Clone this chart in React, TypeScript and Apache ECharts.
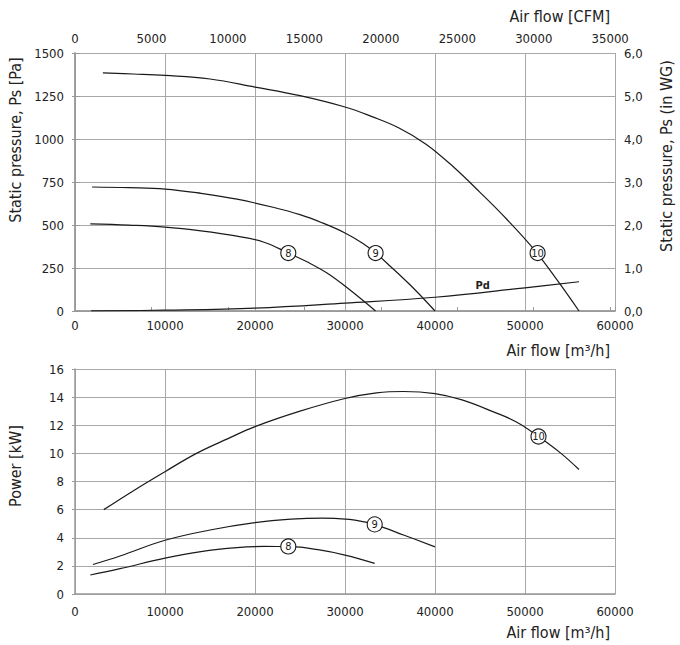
import React, { useEffect, useRef } from "react";
import * as echarts from "echarts";

// Static pressure curves [air flow m3/h, Pa]
const ps8: [number, number][] = [
  [1700, 506], [6000, 499], [10000, 488], [14000, 466], [18000, 435], [21000, 400],
  [23700, 337], [26000, 280], [28000, 221], [30000, 145], [33400, 0],
];
const ps9: [number, number][] = [
  [1900, 721], [6000, 717], [10000, 709], [14000, 684], [18000, 650], [22000, 603],
  [25000, 560], [27500, 512], [30000, 454], [32000, 393], [33400, 337], [35000, 262],
  [37500, 138], [40000, 0],
];
const ps10: [number, number][] = [
  [3100, 1384], [6500, 1378], [10000, 1370], [15000, 1349], [20000, 1302], [25000, 1252],
  [30000, 1186], [33000, 1130], [36000, 1064], [39000, 970], [42000, 840], [45000, 690],
  [48000, 532], [51000, 358], [53500, 185], [56000, 0],
];
const pd: [number, number][] = [
  [1800, 0.5], [10000, 5], [20000, 17], [30000, 46], [40000, 80], [50000, 135], [56000, 170],
];

// Power curves [air flow m3/h, kW]
const pw8: [number, number][] = [
  [1700, 1.35], [5000, 1.8], [10000, 2.55], [14000, 3.02], [18000, 3.3], [21000, 3.38],
  [24000, 3.37], [27000, 3.15], [30000, 2.77], [33300, 2.18],
];
const pw9: [number, number][] = [
  [2000, 2.1], [5000, 2.7], [10000, 3.82], [15000, 4.55], [20000, 5.07],
  [24000, 5.32], [27500, 5.4], [30500, 5.3], [32000, 5.15], [33300, 4.95], [36500, 4.2], [40000, 3.35],
];
const pw10: [number, number][] = [
  [3200, 6.0], [6500, 7.35], [10000, 8.7], [13500, 10.0], [17000, 11.05], [20000, 11.9],
  [25000, 13.0], [30000, 13.9], [33500, 14.3], [36500, 14.4], [40000, 14.25], [43000, 13.8],
  [46500, 12.95], [49000, 12.25], [51500, 11.2], [54000, 10.0], [56000, 8.85],
];

// Curve label positions (on curves)
const psLabels: { name: string; at: [number, number] }[] = [
  { name: "8", at: [23700, 337] },
  { name: "9", at: [33400, 337] },
  { name: "10", at: [51400, 337] },
];
const pwLabels: { name: string; at: [number, number] }[] = [
  { name: "8", at: [23700, 3.38] },
  { name: "9", at: [33300, 4.95] },
  { name: "10", at: [51500, 11.2] },
];
const pdLabel: [number, number] = [45300, 150];

const CFM_PER_M3H = 1 / 1.699;
const FONT = "'DejaVu Sans Condensed', 'Liberation Sans Narrow', 'Roboto', sans-serif";
const TXT = "#222";
const GRID = "#a8a8a8";
const AXIS = "#9a9a9a";
const LINE = "#1a1a1a";

const labelStyle = { fontFamily: FONT, fontSize: 13, color: TXT };
const plain = (v: number) => String(v);

function circleMark(l: { name: string; at: [number, number] }) {
  return {
    coord: l.at,
    label: { formatter: l.name },
  };
}

function curve(
  data: [number, number][],
  xi: number,
  yi: number,
  marks: { name: string; at: [number, number] }[]
) {
  return {
    type: "line",
    xAxisIndex: xi,
    yAxisIndex: yi,
    data,
    smooth: 0.4,
    showSymbol: false,
    symbol: "none",
    lineStyle: { color: LINE, width: 1.2 },
    z: 3,
    markPoint: marks.length
      ? {
          symbol: "circle",
          symbolSize: 15,
          itemStyle: { color: "#fff", borderColor: LINE, borderWidth: 1.1 },
          label: {
            show: true,
            position: "inside",
            color: TXT,
            fontFamily: FONT,
            fontSize: 11,
          },
          data: marks.map(circleMark),
        }
      : undefined,
  };
}

export default function App() {
  const ref = useRef<HTMLDivElement>(null);
  useEffect(() => {
    const chart = echarts.init(ref.current!, null, { renderer: "svg" });
    const axisLine = { show: true, lineStyle: { color: AXIS, width: 1.5 } };
    const split = { show: true, lineStyle: { color: GRID, width: 1 } };
    const option: any = {
      animation: false,
      backgroundColor: "#fff",
      grid: [
        { left: 75, right: 65, top: 53, height: 258 },
        { left: 75, right: 65, top: 369, height: 225 },
      ],
      xAxis: [
        {
          type: "value", gridIndex: 0, position: "bottom", min: 0, max: 60000, interval: 10000,
          axisLine, splitLine: split, axisTick: { show: false },
          axisLabel: { ...labelStyle, margin: 8, formatter: plain },
        },
        {
          type: "value", gridIndex: 0, position: "top", min: 0, max: 60000 * CFM_PER_M3H, interval: 5000,
          axisLine, splitLine: { show: false },
          axisTick: { show: true, inside: false, length: 4, lineStyle: { color: AXIS } },
          axisLabel: {
            ...labelStyle, margin: 8,
            formatter: (v: number) => (v % 5000 === 0 ? String(v) : ""),
          },
        },
        {
          type: "value", gridIndex: 1, position: "bottom", min: 0, max: 60000, interval: 10000,
          axisLine, splitLine: split, axisTick: { show: false },
          axisLabel: { ...labelStyle, margin: 11, formatter: plain },
        },
      ],
      yAxis: [
        {
          type: "value", gridIndex: 0, position: "left", min: 0, max: 1500, interval: 250,
          axisLine, splitLine: split,
          axisTick: { show: true, length: 3, lineStyle: { color: AXIS } },
          axisLabel: { ...labelStyle, margin: 11, formatter: plain },
        },
        {
          type: "value", gridIndex: 0, position: "right", min: 0, max: 6, interval: 1,
          axisLine, splitLine: { show: false },
          axisTick: { show: true, length: 5, lineStyle: { color: AXIS } },
          axisLabel: {
            ...labelStyle, margin: 9,
            formatter: (v: number) => v.toFixed(1).replace(".", ","),
          },
        },
        {
          type: "value", gridIndex: 1, position: "left", min: 0, max: 16, interval: 2,
          axisLine, splitLine: split,
          axisTick: { show: true, length: 3, lineStyle: { color: AXIS } },
          axisLabel: { ...labelStyle, margin: 11, formatter: plain },
        },
      ],
      series: [
        curve(ps8, 0, 0, [psLabels[0]]),
        curve(ps9, 0, 0, [psLabels[1]]),
        curve(ps10, 0, 0, [psLabels[2]]),
        {
          ...curve(pd, 0, 0, []),
          markPoint: {
            symbol: "circle",
            symbolSize: 1,
            itemStyle: { color: "rgba(0,0,0,0)" },
            label: {
              show: true, position: "inside", formatter: "Pd",
              color: TXT, fontFamily: FONT, fontSize: 11, fontWeight: "bold",
            },
            data: [{ coord: pdLabel }],
          },
        },
        curve(pw8, 2, 2, [pwLabels[0]]),
        curve(pw9, 2, 2, [pwLabels[1]]),
        curve(pw10, 2, 2, [pwLabels[2]]),
      ],
      graphic: [
        {
          type: "text", right: 70, top: 8,
          style: { text: "Air flow [CFM]", font: `16px ${FONT}`, fill: TXT },
        },
        {
          type: "text", right: 70, top: 342,
          style: { text: "Air flow [m³/h]", font: `16px ${FONT}`, fill: TXT },
        },
        {
          type: "text", right: 70, top: 624,
          style: { text: "Air flow [m³/h]", font: `16px ${FONT}`, fill: TXT },
        },
        {
          type: "text", x: 15, y: 140, rotation: Math.PI / 2,
          style: {
            text: "Static pressure, Ps [Pa]", font: `16px ${FONT}`, fill: TXT,
            align: "center", verticalAlign: "middle",
          },
        },
        {
          type: "text", x: 666, y: 156, rotation: Math.PI / 2,
          style: {
            text: "Static pressure, Ps (in WG)", font: `16px ${FONT}`, fill: TXT,
            align: "center", verticalAlign: "middle",
          },
        },
        {
          type: "text", x: 15, y: 466, rotation: Math.PI / 2,
          style: {
            text: "Power [kW]", font: `16px ${FONT}`, fill: TXT,
            align: "center", verticalAlign: "middle",
          },
        },
      ],
    };
    chart.setOption(option);
    return () => chart.dispose();
  }, []);
  return (
    <div
      ref={ref}
      style={{ position: "absolute", left: 0, top: 0, width: 680, height: 645 }}
    />
  );
}
